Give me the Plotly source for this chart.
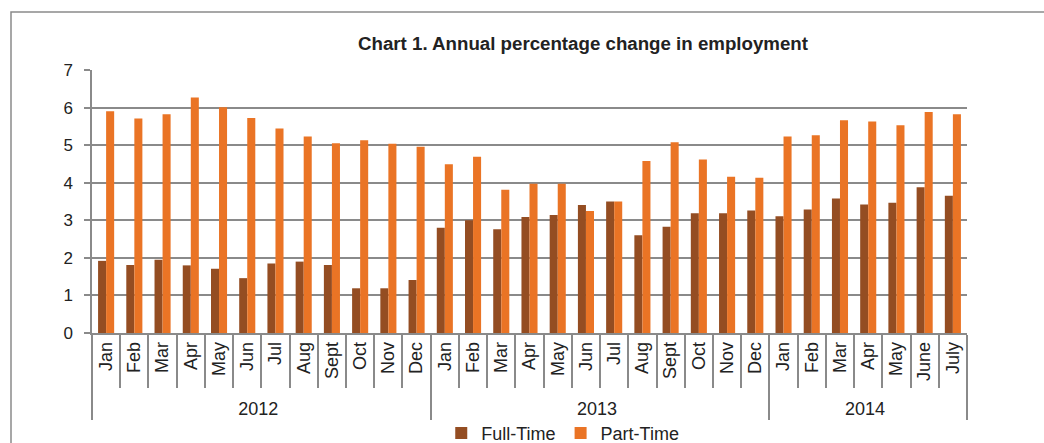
import plotly.graph_objects as go

years = ["2012"] * 12 + ["2013"] * 12 + ["2014"] * 7
months = ["Jan", "Feb", "Mar", "Apr", "May", "Jun", "Jul", "Aug", "Sept", "Oct", "Nov", "Dec",
          "Jan", "Feb", "Mar", "Apr", "May", "Jun", "Jul", "Aug", "Sept", "Oct", "Nov", "Dec",
          "Jan", "Feb", "Mar", "Apr", "May", "June", "July"]
full_time = [1.92, 1.81, 1.95, 1.80, 1.71, 1.46, 1.85, 1.90, 1.81, 1.19, 1.19, 1.41,
             2.80, 3.00, 2.76, 3.09, 3.14, 3.41, 3.50, 2.60, 2.83, 3.19, 3.19, 3.26,
             3.11, 3.29, 3.58, 3.42, 3.47, 3.88, 3.65]
part_time = [5.90, 5.71, 5.82, 6.27, 6.01, 5.72, 5.44, 5.23, 5.05, 5.13, 5.04, 4.96,
             4.49, 4.69, 3.81, 3.97, 3.97, 3.25, 3.50, 4.58, 5.08, 4.62, 4.16, 4.13,
             5.23, 5.26, 5.66, 5.63, 5.53, 5.88, 5.82]
y_ticks = [0, 1, 2, 3, 4, 5, 6, 7]

GRID = "#8a8a8a"
TXT = "#222222"
FONT = "Liberation Sans, Arial, sans-serif"

fig = go.Figure()
fig.add_trace(go.Bar(x=[years, months], y=full_time, name="Full-Time",
                     marker=dict(color="#944D22", line=dict(width=0))))
fig.add_trace(go.Bar(x=[years, months], y=part_time, name="Part-Time",
                     marker=dict(color="#EA7425", line=dict(width=0))))

fig.update_layout(
    width=1044, height=443,
    margin=dict(l=92, r=77, t=70, b=110, autoexpand=False),
    paper_bgcolor="white", plot_bgcolor="white",
    font=dict(family=FONT, size=18, color=TXT),
    barmode="group", bargap=0.43, bargroupgap=0,
    title=dict(text="<b>Chart 1. Annual percentage change in employment</b>",
               x=583 / 1044, xanchor="center", xref="container",
               y=1 - 43 / 443, yanchor="middle", yref="container",
               font=dict(size=18.7, color=TXT, family=FONT)),
    showlegend=True,
    legend=dict(orientation="h", x=0.538, xanchor="center", y=-0.381, yanchor="middle",
                font=dict(size=18, color=TXT), itemwidth=30, bgcolor="rgba(0,0,0,0)"),
)

fig.update_yaxes(range=[0, 7], tickvals=y_ticks, showgrid=True, gridcolor=GRID, gridwidth=1.5,
                 showline=True, linecolor=GRID, linewidth=1.5, ticks="outside", ticklen=6,
                 tickcolor=GRID, tickwidth=1.5, tickfont=dict(size=17, color=TXT), zeroline=False,
                 ticklabelstandoff=8, automargin=False)
fig.update_xaxes(type="multicategory", tickangle=-90, showline=True, linecolor=GRID, linewidth=1.5,
                 ticks="outside", tickson="boundaries", ticklen=53, tickcolor=GRID, tickwidth=1.5,
                 showdividers=True, dividercolor=GRID, dividerwidth=1.5,
                 tickfont=dict(size=18, color=TXT), automargin=False)

# outer chart border
fig.add_shape(type="rect", xref="paper", yref="paper",
              x0=(11 - 92) / 875, x1=(1060 - 92) / 875,
              y0=-0.7, y1=1 + (70 - 12) / 263,
              line=dict(color=GRID, width=1.5), fillcolor="rgba(0,0,0,0)", layer="below")

fig.write_html("out.html", config={"displayModeBar": False},
               post_script="document.body.style.margin='0';")
